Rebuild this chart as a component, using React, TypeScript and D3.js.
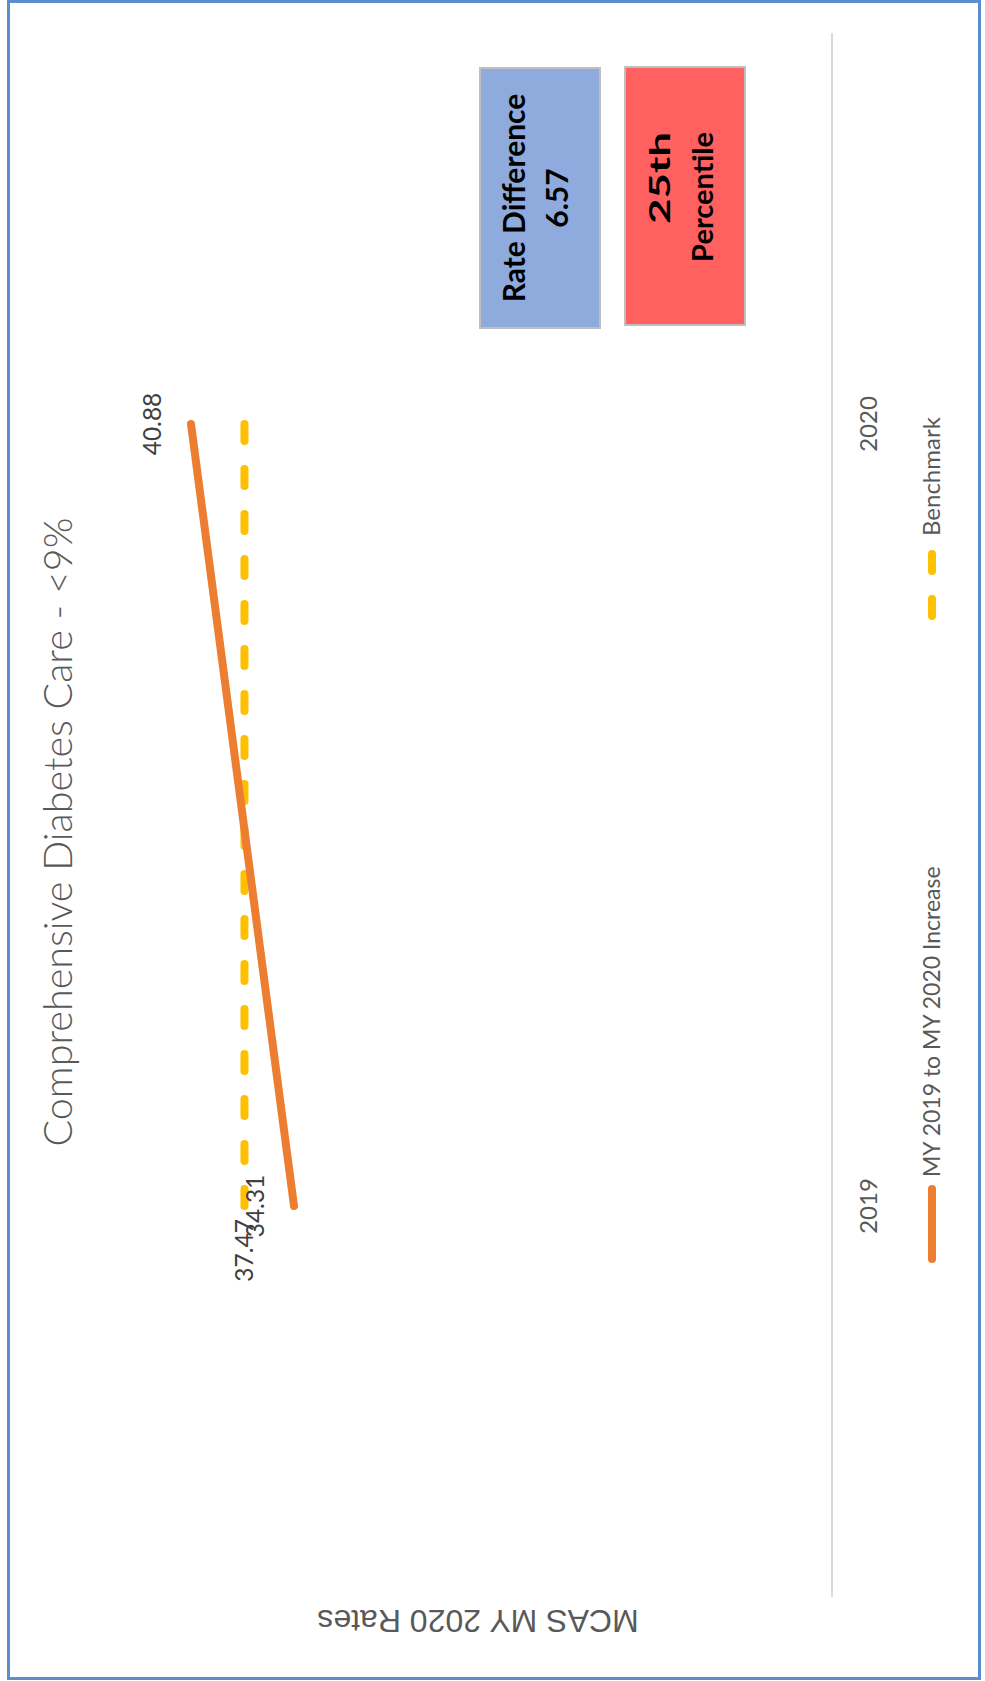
import * as d3 from "d3";
import { useEffect, useRef } from "react";

const years = ["2019", "2020"];
const increaseRates = [34.31, 40.88];
const benchmarkRates = [37.47, 37.47];
const rateDifference = "6.57";
const percentileLines = ["25th", "Percentile"];
const seriesNames = ["MY 2019 to MY 2020 Increase", "Benchmark"];

const width = 985;
const height = 1681;
const calibri = "Lato, 'Open Sans', sans-serif";

export default function App() {
  const ref = useRef<SVGSVGElement>(null);

  useEffect(() => {
    const svg = d3.select(ref.current);
    svg.selectAll("*").remove();

    // chart is drawn turned a quarter turn: values run right-to-left, years bottom-to-top
    const v = d3.scaleLinear([0, 45], [832, 126.4]);
    const cat = d3.scalePoint(years, [1597, 33]).padding(0.5);

    svg
      .append("rect")
      .attr("width", width)
      .attr("height", height)
      .attr("fill", "#fff");

    svg
      .append("rect")
      .attr("x", 8.5)
      .attr("y", 1.5)
      .attr("width", 971)
      .attr("height", 1677)
      .attr("fill", "none")
      .attr("stroke", "#5b8fcc")
      .attr("stroke-width", 3);

    // title
    svg
      .append("text")
      .attr("transform", "translate(72, 832) rotate(-90)")
      .attr("text-anchor", "middle")
      .attr("font-family", calibri)
      .attr("font-weight", 300)
      .attr("font-size", 39.5)
      .attr("fill", "#595959")
      .text("Comprehensive Diabetes Care - <9%");

    // category axis line
    svg
      .append("line")
      .attr("x1", v(0))
      .attr("x2", v(0))
      .attr("y1", 33)
      .attr("y2", 1597)
      .attr("stroke", "#d9d9d9")
      .attr("stroke-width", 2);

    svg
      .selectAll("text.tick")
      .data(years)
      .enter()
      .append("text")
      .attr("class", "tick")
      .attr("transform", (d) => `translate(877, ${cat(d)}) rotate(-90)`)
      .attr("text-anchor", "middle")
      .attr("font-family", calibri)
      .attr("font-size", 24)
      .attr("fill", "#595959")
      .text((d) => d);

    // series lines
    const line = d3
      .line<number>()
      .x((d) => v(d))
      .y((_, i) => cat(years[i])!);

    svg
      .append("path")
      .attr("d", line(benchmarkRates))
      .attr("fill", "none")
      .attr("stroke", "#ffc000")
      .attr("stroke-width", 8)
      .attr("stroke-linecap", "round")
      .attr("stroke-dasharray", "17 28");

    svg
      .append("path")
      .attr("d", line(increaseRates))
      .attr("fill", "none")
      .attr("stroke", "#ed7d31")
      .attr("stroke-width", 8)
      .attr("stroke-linecap", "round");

    // data labels
    svg
      .selectAll("text.inc")
      .data(increaseRates)
      .enter()
      .append("text")
      .attr("class", "inc")
      .attr("transform", (d, i) => `translate(${v(d) - 30}, ${cat(years[i])}) rotate(-90)`)
      .attr("text-anchor", "middle")
      .attr("font-family", calibri)
      .attr("font-size", 24.5)
      .attr("fill", "#404040")
      .text((d) => d.toFixed(2));

    svg
      .append("text")
      .attr("transform", `translate(${v(benchmarkRates[0]) + 9}, ${cat(years[0])! + 13}) rotate(-90)`)
      .attr("text-anchor", "end")
      .attr("font-family", calibri)
      .attr("font-size", 24.5)
      .attr("fill", "#404040")
      .text(benchmarkRates[0].toFixed(2));

    // legend
    svg
      .append("line")
      .attr("x1", 932)
      .attr("x2", 932)
      .attr("y1", 1189)
      .attr("y2", 1259)
      .attr("stroke", "#ed7d31")
      .attr("stroke-width", 8)
      .attr("stroke-linecap", "round");

    svg
      .append("text")
      .attr("transform", "translate(940, 1177) rotate(-90)")
      .attr("font-family", calibri)
      .attr("font-size", 23)
      .attr("fill", "#595959")
      .text(seriesNames[0]);

    svg
      .append("line")
      .attr("x1", 932)
      .attr("x2", 932)
      .attr("y1", 616)
      .attr("y2", 554)
      .attr("stroke", "#ffc000")
      .attr("stroke-width", 8)
      .attr("stroke-linecap", "round")
      .attr("stroke-dasharray", "17 28");

    svg
      .append("text")
      .attr("transform", "translate(940, 536) rotate(-90)")
      .attr("font-family", calibri)
      .attr("font-size", 24)
      .attr("fill", "#595959")
      .text(seriesNames[1]);

    // value axis title (upside down)
    svg
      .append("text")
      .attr("transform", "translate(478, 1610) rotate(180)")
      .attr("text-anchor", "middle")
      .attr("font-family", "'Liberation Sans', Arial, sans-serif")
      .attr("font-size", 32)
      .attr("fill", "#595959")
      .text("MCAS MY 2020 Rates");

    // info boxes
    svg
      .append("rect")
      .attr("x", 480)
      .attr("y", 68)
      .attr("width", 120)
      .attr("height", 260)
      .attr("fill", "#8faadc")
      .attr("stroke", "#bfbfbf")
      .attr("stroke-width", 2);

    svg
      .selectAll("text.diff")
      .data(["Rate Difference", rateDifference])
      .enter()
      .append("text")
      .attr("class", "diff")
      .attr("transform", (_, i) => `translate(${525 + i * 43}, 198) rotate(-90)`)
      .attr("text-anchor", "middle")
      .attr("font-family", calibri)
      .attr("font-weight", 700)
      .attr("font-size", 30)
      .attr("fill", "#000")
      .text((d) => d);

    svg
      .append("rect")
      .attr("x", 625)
      .attr("y", 67)
      .attr("width", 120)
      .attr("height", 258)
      .attr("fill", "#ff6161")
      .attr("stroke", "#bfbfbf")
      .attr("stroke-width", 2);

    svg
      .selectAll("text.pct")
      .data(percentileLines)
      .enter()
      .append("text")
      .attr("class", "pct")
      .attr("transform", (_, i) => `translate(${670 + i * 43}, 132) rotate(-90)`)
      .attr("text-anchor", "end")
      .attr("font-family", calibri)
      .attr("font-weight", 700)
      .attr("font-size", 29)
      .attr("fill", "#000")
      .attr("textLength", (_, i) => (i === 0 ? 92 : null))
      .attr("lengthAdjust", "spacingAndGlyphs")
      .text((d) => d);
  }, []);

  return (
    <svg
      ref={ref}
      width={width}
      height={height}
      style={{ position: "absolute", left: 0, top: 0 }}
    />
  );
}
